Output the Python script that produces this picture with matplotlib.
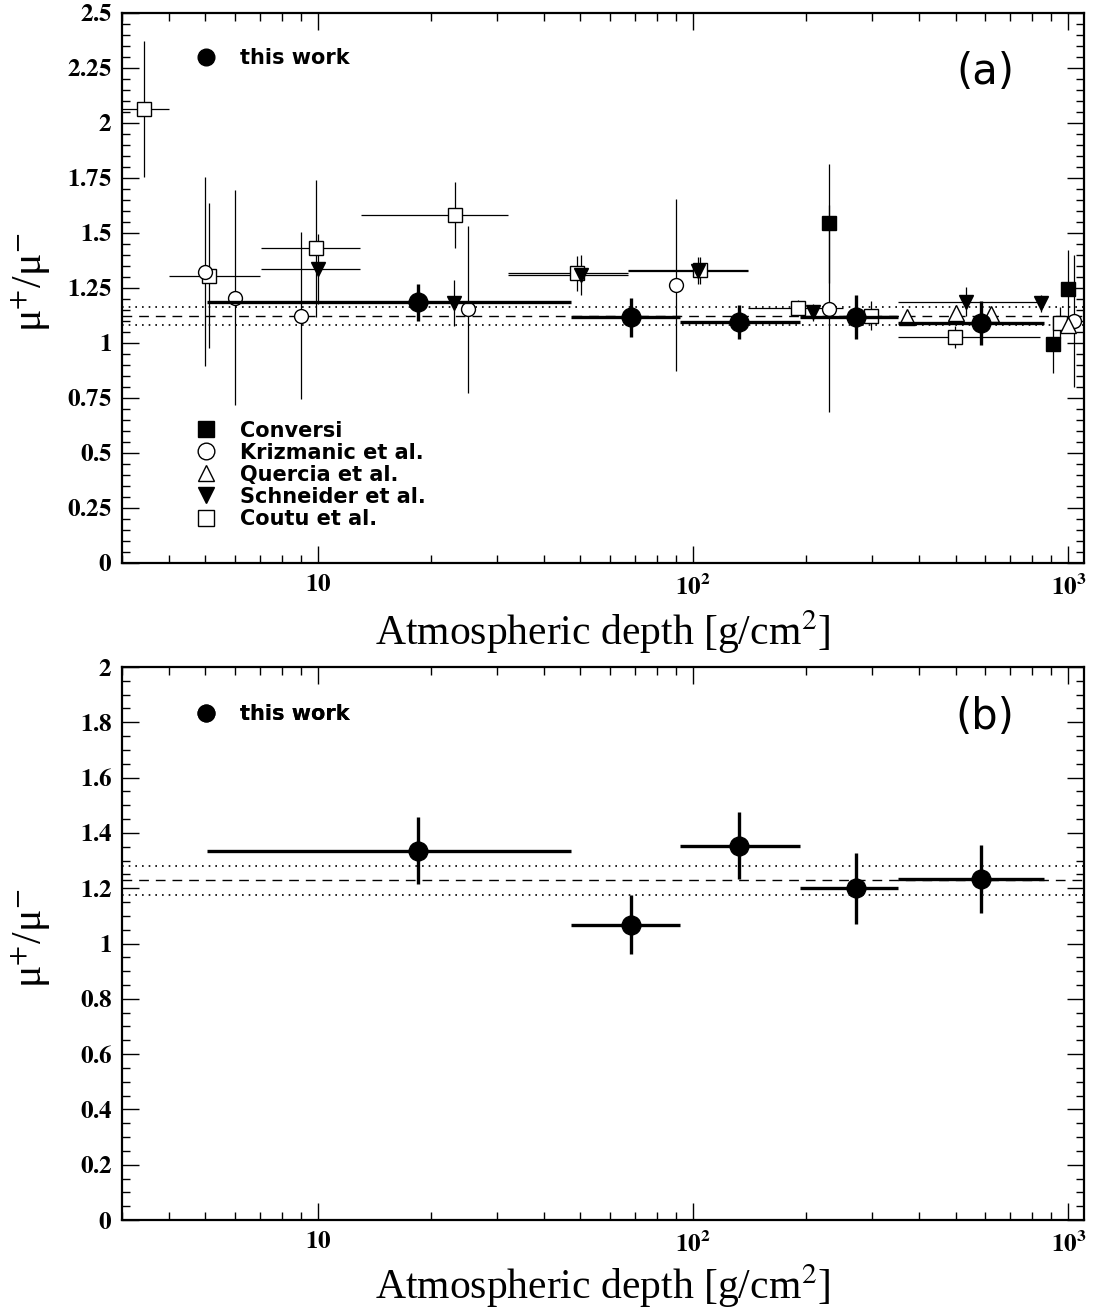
import numpy as np
import matplotlib
matplotlib.use('Agg')
import matplotlib.pyplot as plt
from matplotlib.lines import Line2D
from matplotlib.ticker import FixedLocator, FixedFormatter, LogLocator, MultipleLocator, NullFormatter, FuncFormatter

plt.rcParams['mathtext.fontset'] = 'stix'
plt.rcParams['font.family'] = 'serif'
plt.rcParams['font.serif'] = ['Liberation Serif', 'DejaVu Serif']

# this work: depth bins [g/cm2] and mu+/mu- ratio
depth = np.array([18.4, 68.1, 132, 271, 583])
depth_lo = np.array([5.07, 47.3, 91.9, 193, 351])
depth_hi = np.array([47.3, 91.9, 193, 351, 859])
ratio_a = np.array([1.186, 1.117, 1.097, 1.117, 1.089])
err_a = np.array([0.084, 0.088, 0.077, 0.10, 0.10])
ratio_b = np.array([1.336, 1.068, 1.354, 1.200, 1.232])
err_b = np.array([0.12, 0.107, 0.12, 0.128, 0.123])
mean_a, band_a = 1.123, 0.041
mean_b, band_b = 1.228, 0.053

# other experiments (panel a)
conv_x = np.array([230, 910, 998])
conv_y = np.array([1.544, 0.994, 1.244])
conv_e = np.array([0.27, 0.13, 0.18])

kriz_x = np.array([5.0, 6.01, 9.01, 25.1, 89.9, 230, 1035])
kriz_y = np.array([1.324, 1.206, 1.124, 1.153, 1.264, 1.155, 1.101])
kriz_e = np.array([0.43, 0.49, 0.38, 0.38, 0.39, 0.47, 0.30])

quer_x = np.array([370, 500, 623, 1000])
quer_y = np.array([1.118, 1.135, 1.13, 1.08])
quer_e = np.array([0.02, 0.02, 0.02, 0.03])

schn_x = np.array([10, 23, 50.1, 103, 209, 533, 847])
schn_y = np.array([1.335, 1.18, 1.309, 1.329, 1.139, 1.188, 1.18])
schn_e = np.array([0.16, 0.105, 0.09, 0.06, 0.04, 0.065, 0.04])
schn_lo = np.array([7.05, 23, 32, 67, 209, 351, 847])
schn_hi = np.array([12.9, 23, 67, 140, 209, 850, 847])

cout_x = np.array([3.44, 5.13, 9.88, 23.2, 49.1, 104, 190, 298, 498, 952])
cout_y = np.array([2.064, 1.305, 1.43, 1.582, 1.317, 1.33, 1.16, 1.124, 1.026, 1.092])
cout_e = np.array([0.31, 0.33, 0.31, 0.15, 0.08, 0.06, 0.035, 0.065, 0.05, 0.07])
cout_lo = np.array([3.0, 4.0, 7.05, 13.0, 32, 67, 140, 250, 351, 910])
cout_hi = np.array([4.0, 7.0, 12.9, 32, 67, 140, 250, 350, 838, 1000])

fig = plt.figure(figsize=(11.03, 13.12), dpi=100)
ax_a = fig.add_axes([0.1106, 0.5709, 0.8722, 0.4192])
ax_b = fig.add_axes([0.1106, 0.0701, 0.8722, 0.4215])

thin = dict(elinewidth=0.9, capsize=0, linestyle='none', color='black', mew=1.0)
legend_font = {'family': 'DejaVu Sans', 'size': 15, 'weight': 'bold'}


def style_axes(ax, ymax, ystep, labels_y):
    ax.set_xscale('log')
    ax.set_xlim(3, 1100)
    ax.set_ylim(0, ymax)
    ax.xaxis.set_major_locator(FixedLocator([10, 100, 1000]))
    ax.xaxis.set_major_formatter(FixedFormatter([r'$\mathbf{10}$', r'$\mathbf{10^{2}}$', r'$\mathbf{10^{3}}$']))
    ax.xaxis.set_minor_locator(LogLocator(base=10, subs=np.arange(2, 10)))
    ax.xaxis.set_minor_formatter(NullFormatter())
    ax.yaxis.set_major_locator(MultipleLocator(ystep))
    ax.yaxis.set_minor_locator(MultipleLocator(0.05))
    ax.yaxis.set_major_formatter(FuncFormatter(lambda v, p: r'$\mathbf{%g}$' % v))
    ax.tick_params(which='both', direction='in', top=True, right=True, width=1.0)
    ax.tick_params(which='major', length=12, labelsize=18)
    ax.tick_params(which='minor', length=6)
    ax.tick_params(axis='y', pad=7)
    ax.tick_params(axis='x', pad=8)
    for s in ax.spines.values():
        s.set_linewidth(1.6)
    ax.set_xlabel('Atmospheric depth [g/cm$^2$]', fontsize=30)
    ax.xaxis.set_label_coords(0.5, labels_y)
    ax.set_ylabel('μ$^{+}$/μ$^{-}$', fontsize=30)
    ax.yaxis.set_label_coords(-0.072, 0.51)


def draw_this_work(ax, ratio, err, mean, band, panel):
    ax.axhline(mean, color='black', lw=1.0, ls=(0, (7, 5)))
    ax.axhline(mean + band, color='black', lw=1.2, ls=(0, (1, 3)))
    ax.axhline(mean - band, color='black', lw=1.2, ls=(0, (1, 3)))
    ax.errorbar(depth, ratio, yerr=err, xerr=[depth - depth_lo, depth_hi - depth],
                fmt='o', ms=13.5, color='black', elinewidth=2.4, capsize=0, zorder=5)
    h = Line2D([], [], marker='o', ls='none', color='black', ms=12)
    leg = ax.legend([h], ['this work'], loc='center left', bbox_to_anchor=(0.077, 0.918 if panel == 'a' else 0.915),
                    frameon=False, borderpad=0, borderaxespad=0, handlelength=1.0, handletextpad=1.1,
                    prop=legend_font)
    ax.add_artist(leg)
    ax.text(0.897, 0.893 if panel == 'a' else 0.91, '(%s)' % panel, transform=ax.transAxes,
            ha='center', va='center', fontsize=30, family='DejaVu Sans')


# panel (a)
style_axes(ax_a, 2.5, 0.25, -0.082)
ax_a.errorbar(cout_x, cout_y, yerr=cout_e, xerr=[cout_x - cout_lo, cout_hi - cout_x],
              fmt='s', ms=10, mfc='white', mec='black', **thin)
ax_a.errorbar(kriz_x, kriz_y, yerr=kriz_e, fmt='o', ms=10, mfc='white', mec='black', **thin)
ax_a.errorbar(quer_x, quer_y, yerr=quer_e, fmt='^', ms=11, mfc='white', mec='black', **thin)
ax_a.errorbar(schn_x, schn_y, yerr=schn_e, xerr=[schn_x - schn_lo, schn_hi - schn_x],
              fmt='v', ms=10, mfc='black', mec='black', **thin)
ax_a.errorbar(conv_x, conv_y, yerr=conv_e, fmt='s', ms=10, mfc='black', mec='black', **thin)
draw_this_work(ax_a, ratio_a, err_a, mean_a, band_a, 'a')

names = ['Conversi', 'Krizmanic et al.', 'Quercia et al.', 'Schneider et al.', 'Coutu et al.']
handles = [Line2D([], [], marker='s', ls='none', mfc='black', mec='black', ms=11),
           Line2D([], [], marker='o', ls='none', mfc='white', mec='black', ms=12),
           Line2D([], [], marker='^', ls='none', mfc='white', mec='black', ms=12),
           Line2D([], [], marker='v', ls='none', mfc='black', mec='black', ms=11),
           Line2D([], [], marker='s', ls='none', mfc='white', mec='black', ms=11)]
ax_a.legend(handles, names, loc='center left', bbox_to_anchor=(0.077, 0.1605), frameon=False,
            borderpad=0, borderaxespad=0, handlelength=1.0, handletextpad=1.1, labelspacing=0.1,
            prop=legend_font)

# panel (b)
style_axes(ax_b, 2.0, 0.2, -0.076)
draw_this_work(ax_b, ratio_b, err_b, mean_b, band_b, 'b')

fig.savefig('out.png', dpi=100)
